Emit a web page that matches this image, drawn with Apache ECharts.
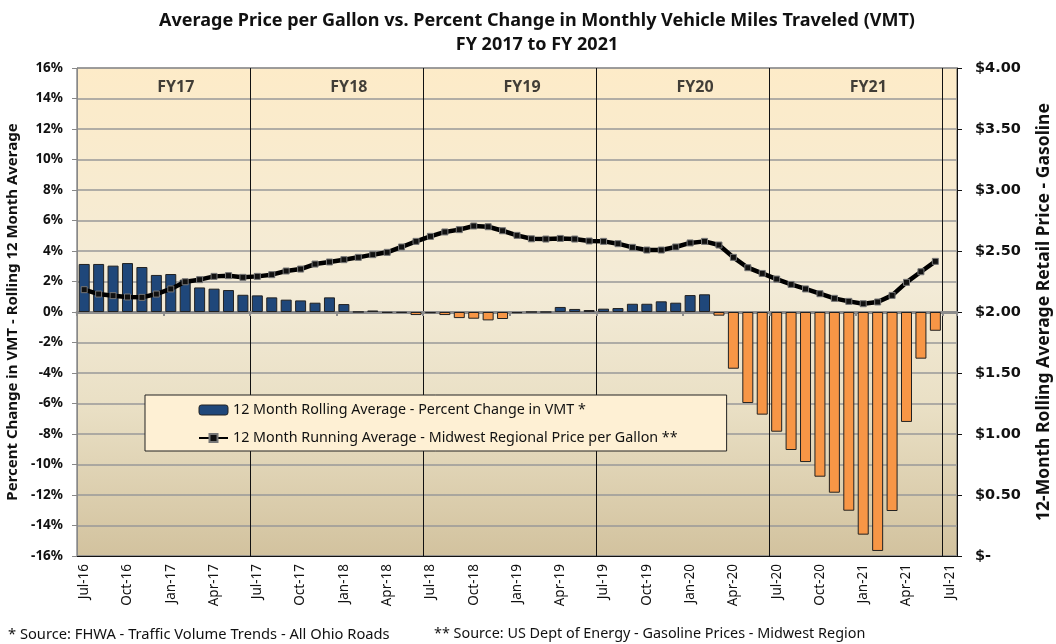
<!DOCTYPE html>
<html>
<head>
<meta charset="utf-8">
<script src="https://cdn.jsdelivr.net/npm/echarts@6/dist/echarts.min.js"></script>
<style>
html,body{margin:0;padding:0;background:#fff;}
#chart{width:1056px;height:644px;}
</style>
</head>
<body>
<div id="chart"></div>
<script>
const categories = [
 'Jul-16','Aug-16','Sep-16','Oct-16','Nov-16','Dec-16','Jan-17','Feb-17','Mar-17','Apr-17','May-17','Jun-17',
 'Jul-17','Aug-17','Sep-17','Oct-17','Nov-17','Dec-17','Jan-18','Feb-18','Mar-18','Apr-18','May-18','Jun-18',
 'Jul-18','Aug-18','Sep-18','Oct-18','Nov-18','Dec-18','Jan-19','Feb-19','Mar-19','Apr-19','May-19','Jun-19',
 'Jul-19','Aug-19','Sep-19','Oct-19','Nov-19','Dec-19','Jan-20','Feb-20','Mar-20','Apr-20','May-20','Jun-20',
 'Jul-20','Aug-20','Sep-20','Oct-20','Nov-20','Dec-20','Jan-21','Feb-21','Mar-21','Apr-21','May-21','Jun-21',
 'Jul-21'
];
const vmtChange = [
 3.15, 3.15, 3.04, 3.21, 2.95, 2.43, 2.49, 2.12, 1.61, 1.53, 1.44, 1.13,
 1.09, 0.96, 0.81, 0.76, 0.61, 0.96, 0.52, 0.01, 0.10, -0.05, -0.05, -0.20,
 -0.08, -0.20, -0.40, -0.44, -0.55, -0.46, -0.08, 0.00, 0.00, 0.33, 0.20, 0.13,
 0.22, 0.26, 0.54, 0.54, 0.70, 0.61, 1.11, 1.16, -0.24, -3.72, -5.97, -6.73,
 -7.85, -9.05, -9.84, -10.80, -11.85, -13.03, -14.60, -15.67, -13.05, -7.21, -3.06, -1.23,
 null
];
const gasPrice = [
 2.183, 2.147, 2.134, 2.123, 2.120, 2.147, 2.189, 2.248, 2.265, 2.292, 2.298, 2.284,
 2.292, 2.306, 2.336, 2.352, 2.393, 2.410, 2.429, 2.448, 2.470, 2.489, 2.533, 2.579,
 2.620, 2.656, 2.675, 2.705, 2.699, 2.666, 2.628, 2.600, 2.598, 2.603, 2.598, 2.582,
 2.579, 2.560, 2.530, 2.508, 2.508, 2.533, 2.566, 2.579, 2.549, 2.448, 2.363, 2.316,
 2.270, 2.226, 2.189, 2.150, 2.112, 2.087, 2.068, 2.082, 2.136, 2.243, 2.330, 2.415,
 null
];
const fyLabels = ['FY17','FY18','FY19','FY20','FY21'];
const fyLabelMonths = ['Jan-17','Jan-18','Jan-19','Jan-20','Jan-21'];
const leftTicks = {min:-16, max:16, step:2};
const rightTicks = {min:0, max:4, step:0.5};
const titleLines = ['Average Price per Gallon vs. Percent Change in Monthly Vehicle Miles Traveled (VMT)','FY 2017 to FY 2021'];
const seriesNames = ['12 Month Rolling Average - Percent Change in VMT *','12 Month Running Average - Midwest Regional Price per Gallon **'];
const axisNames = ['Percent Change in VMT - Rolling 12 Month Average','12-Month Rolling Average Retail Price - Gasoline'];
const footnotes = ['* Source: FHWA - Traffic Volume Trends - All Ohio Roads','** Source: US Dept of Energy - Gasoline Prices - Midwest Region'];

const FONT = '"Noto Sans", "DejaVu Sans", sans-serif';
const FONT3 = '"DejaVu Sans", "Noto Sans", sans-serif';
const BLUE = '#1F477A', ORANGE = '#F79646';

const chart = echarts.init(document.getElementById('chart'), null, {renderer:'canvas'});
const option = {
  animation:false,
  backgroundColor:'#ffffff',
  title:[
    {text:titleLines[0]+'\n'+titleLines[1], left:532, top:4, textAlign:'center',
     textStyle:{fontFamily:FONT, fontWeight:'bold', fontSize:18, color:'#111', lineHeight:24}},
    {text:footnotes[0], left:3, top:622, textStyle:{fontFamily:FONT, fontWeight:'normal', fontSize:14.7, color:'#111'}},
    {text:footnotes[1], left:429, top:622, textStyle:{fontFamily:FONT, fontWeight:'normal', fontSize:14.4, color:'#111'}}
  ],
  grid:{left:77, right:99, top:68, bottom:88, show:true, borderColor:'#555', borderWidth:1,
    outerBoundsMode:'none', containLabel:false,
    backgroundColor:{type:'linear', x:0, y:0, x2:0, y2:1, colorStops:[
      {offset:0, color:'#FDEBC8'},{offset:0.45, color:'#F3EBD7'},{offset:0.7, color:'#E9DFC4'},{offset:1, color:'#D2C29E'}]}},
  legend:{
    data:[{name:seriesNames[0], itemStyle:{color:BLUE, borderColor:'#222', borderWidth:1}}, {name:seriesNames[1]}],
    orient:'vertical', left:145, top:395, padding:[8,49,6,53], itemGap:14, itemWidth:29, itemHeight:10,
    backgroundColor:'#FEF0D4', borderColor:'#222', borderWidth:1,
    textStyle:{fontFamily:FONT, fontSize:14.3, color:'#111'}
  },
  xAxis:[
    {type:'category', data:categories, position:'bottom', boundaryGap:true,
     axisLine:{onZero:false, lineStyle:{color:'#111', width:1}},
     axisTick:{show:false},
     axisLabel:{interval:2, rotate:90, margin:8, fontFamily:FONT, fontSize:13.5, color:'#111'},
     splitLine:{show:true, interval:function(i){return i>0 && i%12===0;}, lineStyle:{color:'#111', width:1}}
    },
    {type:'category', data:categories, position:'top', boundaryGap:true,
     axisLine:{onZero:true, onZeroAxisIndex:0, lineStyle:{color:'#8C8C8C', width:3}},
     axisTick:{show:true, interval:5, inside:true, length:4, lineStyle:{color:'#8C8C8C', width:2}},
     axisLabel:{show:false}, splitLine:{show:false}
    }
  ],
  yAxis:[
    {type:'value', min:leftTicks.min, max:leftTicks.max, interval:leftTicks.step, position:'left',
     name:axisNames[0], nameLocation:'middle', nameRotate:90, nameGap:44,
     nameTextStyle:{fontFamily:FONT, fontWeight:'bold', fontSize:15, color:'#111'},
     axisLine:{show:true, lineStyle:{color:'#888', width:1}},
     axisTick:{show:true, length:5, lineStyle:{color:'#888'}},
     axisLabel:{formatter:function(v){return v+'%';}, margin:14, fontFamily:FONT, fontWeight:'bold', fontSize:13.5, color:'#111'},
     splitLine:{show:true, lineStyle:{color:'#999', width:1.5}}
    },
    {type:'value', min:rightTicks.min, max:rightTicks.max, interval:rightTicks.step, position:'right',
     name:axisNames[1], nameLocation:'middle', nameRotate:90, nameGap:78,
     nameTextStyle:{fontFamily:FONT, fontWeight:'bold', fontSize:17.5, color:'#111'},
     axisLine:{show:true, lineStyle:{color:'#111', width:1}},
     axisTick:{show:true, length:5, lineStyle:{color:'#111'}},
     axisLabel:{formatter:function(v){return v===0?'$-':'$'+v.toFixed(2);}, margin:18, fontFamily:FONT3, fontWeight:'bold', fontSize:14.5, color:'#111'},
     splitLine:{show:false}
    }
  ],
  series:[
    {name:seriesNames[0], type:'bar', xAxisIndex:0, yAxisIndex:0, data:vmtChange, barWidth:11, color:BLUE,
     itemStyle:{borderColor:'#222', borderWidth:1, color:function(p){return p.value<0?ORANGE:BLUE;}}, z:3},
    {name:seriesNames[1], type:'line', xAxisIndex:0, yAxisIndex:1, data:gasPrice, color:'#000',
     lineStyle:{color:'#000', width:4.5}, symbol:'rect', symbolSize:6,
     itemStyle:{color:'#111', borderColor:'#777', borderWidth:1}, z:5},
    {name:'fy', type:'scatter', xAxisIndex:0, yAxisIndex:0, symbolSize:0, silent:true,
     data:fyLabelMonths.map(function(m,i){return {value:[m, 14.7], fy:fyLabels[i]};}),
     label:{show:true, position:'inside', offset:[5,0], formatter:function(p){return fyLabels[p.dataIndex];},
       fontFamily:FONT, fontWeight:'bold', fontSize:16, color:'#111'}, z:6}
  ]
};
chart.setOption(option);
</script>
</body>
</html>
